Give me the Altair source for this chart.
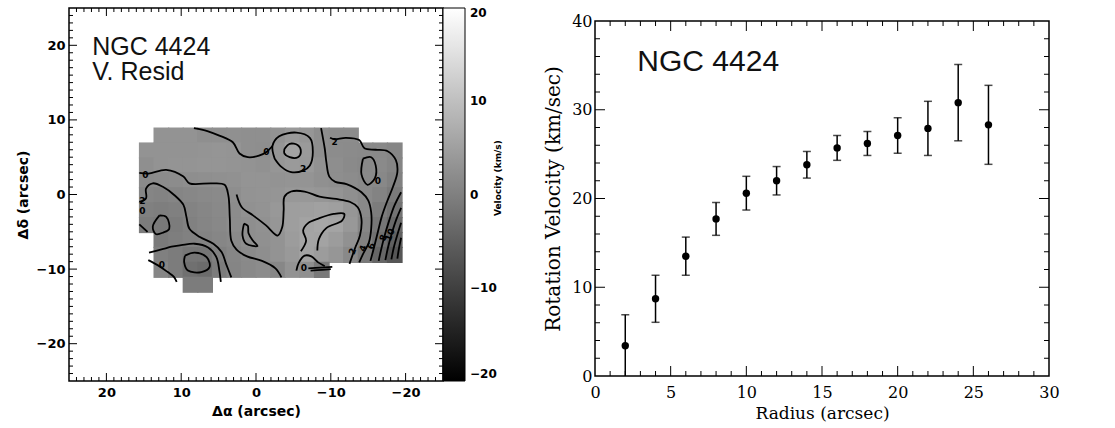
import altair as alt
import pandas as pd

# ---------------- Right panel: rotation curve of NGC 4424 ----------------
radius_arcsec = [2, 4, 6, 8, 10, 12, 14, 16, 18, 20, 22, 24, 26]
rot_velocity = [3.4, 8.7, 13.5, 17.7, 20.6, 22.0, 23.8, 25.7, 26.2, 27.1, 27.9, 30.8, 28.3]
rot_error = [3.5, 2.65, 2.15, 1.85, 1.9, 1.6, 1.5, 1.4, 1.35, 2.0, 3.05, 4.3, 4.45]

rc_x_labels = [0, 5, 10, 15, 20, 25, 30]
rc_y_labels = [0, 10, 20, 30, 40]
rc_x_major = [5, 10, 15, 20, 25]
rc_x_minor = [1, 2, 3, 4, 6, 7, 8, 9, 11, 12, 13, 14, 16, 17, 18, 19, 21, 22, 23, 24, 26, 27, 28, 29]
rc_y_major = [10, 20, 30]
rc_y_minor = [2, 4, 6, 8, 12, 14, 16, 18, 22, 24, 26, 28, 32, 34, 36, 38]

# ---------------- Left panel: velocity residual map ----------------
map_labels = [20, 10, 0, -10, -20]
map_major = [20, 10, 0, -10, -20]
map_minor = [v for v in range(-24, 25) if v % 10 != 0]
cbar_values = [-20, -10, 0, 10, 20]

# grid cell centres (arcsec) and residual velocity (km/s) per cell, rows top -> bottom
map_x = [14.6, 12.65, 10.7, 8.75, 6.8, 4.85, 2.9, 0.95, -1.0, -2.95, -4.9, -6.85,
         -8.8, -10.75, -12.7, -14.65, -16.6, -18.55]
map_y = [7.9, 5.9, 3.9, 1.9, -0.1, -2.1, -4.1, -6.1, -8.1, -10.1, -12.1]
N = None
resid = [
    [N, 3.0, 3.0, 3.0, 2.5, 2.5, 2.6, 2.5, 2.5, 3.0, 4.0, 3.5, 2.2, 2.0, 2.0, N, N, N],
    [3.0, 3.0, 3.0, 3.0, 3.2, 3.3, 3.2, 2.5, 2.3, 3.5, 5.5, 4.2, 2.3, 2.0, 1.8, 1.7, 1.5, 1.0],
    [2.5, 3.0, 3.2, 3.2, 3.3, 3.3, 3.2, 3.0, 2.8, 3.5, 4.2, 4.0, 2.8, 2.3, 1.7, 1.4, 1.7, 0.8],
    [1.7, 1.8, 2.0, 2.3, 2.5, 2.6, 2.8, 3.2, 3.2, 3.0, 3.2, 3.2, 2.6, 2.3, 2.0, 1.5, 1.4, 0.2],
    [0.8, 0.5, 0.8, 1.2, 1.5, 1.7, 2.2, 3.0, 3.2, 3.3, 3.8, 3.8, 3.5, 3.2, 2.5, 1.5, 0.5, -0.8],
    [0.0, -0.2, 0.0, 0.5, 1.0, 1.5, 2.0, 2.8, 3.0, 3.8, 4.8, 5.0, 5.2, 5.0, 3.5, 1.5, -0.5, -2.0],
    [-0.5, -1.0, -0.5, 0.2, 0.8, 1.4, 1.9, 2.3, 2.8, 3.5, 4.8, 5.5, 6.0, 5.8, 3.8, 1.0, -1.5, -3.5],
    [N, -0.8, -0.2, 0.2, 0.5, 1.0, 1.5, 2.2, 2.6, 3.0, 4.5, 5.8, 5.5, 4.5, 2.8, 0.2, -2.5, -5.0],
    [N, 0.0, -0.5, -1.5, -1.5, 0.0, 1.0, 1.7, 2.3, 3.0, 4.0, 5.5, 4.5, 3.5, 1.5, -1.0, -4.0, -6.5],
    [N, 1.0, -0.5, -2.5, -3.0, -0.5, 0.8, 1.5, 2.0, 1.2, 3.0, 2.5, -1.0, N, N, N, N, N],
    [N, N, N, -0.5, -0.5, N, N, N, N, N, N, N, N, N, N, N, N, N],
]
CELL_W, CELL_H = 1.95, 2.0
CELL_OVERLAP = 0.08  # tiny overlap so neighbouring cells leave no seams

# contour paths (arcsec)
contour_paths = [
    [(8.3, 8.9), (6.5, 8.5), (4.9, 7.9), (3.1, 7.0), (2.2, 5.5), (1.1, 5.0), (-0.4, 5.2), (-1.4, 5.7), (-2.2, 6.5)],
    [(-2.5, 4.8), (-2.2, 6.5), (-3.1, 7.8), (-5.4, 8.3), (-7.2, 7.6), (-7.6, 5.7), (-7.2, 3.9), (-6.3, 3.2), (-4.7, 3.0), (-3.4, 3.7), (-2.5, 4.8)],
    [(-3.8, 6.1), (-4.5, 6.8), (-5.6, 6.6), (-6.0, 5.7), (-5.6, 5.0), (-4.5, 5.0), (-3.8, 5.5), (-3.8, 6.1)],
    [(15.6, 2.9), (14.4, 2.8), (12.0, 3.3), (9.7, 2.4), (8.9, 1.5), (5.9, 1.5), (4.2, 1.3), (3.7, -0.1), (3.5, -3.2), (3.3, -6.2), (2.6, -7.4), (1.2, -8.3), (-0.8, -8.9), (-2.6, -9.9), (-3.4, -11.1)],
    [(15.6, -1.0), (14.7, -0.5), (14.7, 0.8), (13.8, 1.5), (12.4, 1.0), (10.9, -0.1), (9.7, -1.4), (9.3, -3.0), (8.9, -4.6), (7.5, -5.7), (5.7, -6.6), (4.6, -7.7), (4.0, -9.3), (3.3, -11.1)],
    [(14.3, -7.8), (12.4, -7.3), (11.3, -7.0), (10.0, -6.8), (8.2, -6.6), (6.4, -7.1), (5.3, -8.4), (4.9, -10.2), (4.7, -11.7)],
    [(9.5, -8.2), (8.2, -7.8), (6.6, -8.4), (6.2, -9.7), (7.3, -10.4), (9.1, -10.2), (9.6, -9.1), (9.5, -8.2)],
    [(14.4, -8.8), (13.1, -9.5), (11.8, -10.4), (11.0, -11.0), (10.6, -11.7)],
    [(12.9, -2.8), (12.0, -3.0), (11.6, -4.6), (12.4, -5.1), (13.4, -5.3), (13.8, -4.3), (12.9, -2.8)],
    [(15.6, -4.0), (14.5, -5.0)],
    [(1.6, -3.9), (1.8, -5.5), (1.3, -6.6), (-0.2, -6.9), (0.4, -6.2), (1.0, -5.2), (1.1, -4.2), (1.6, -3.9)],
    [(2.6, 0.0), (1.9, -1.7), (0.4, -2.8), (-1.3, -4.1), (-2.9, -5.5), (-3.5, -4.4), (-3.7, -2.1), (-3.8, -0.3), (-4.7, 0.4), (-6.5, 0.4), (-8.5, -0.3), (-10.7, -0.6), (-12.6, -1.0), (-13.6, -1.7), (-14.1, -3.3), (-13.9, -5.5), (-13.2, -7.3), (-12.5, -9.3)],
    [(-6.0, -7.6), (-6.7, -6.2), (-6.3, -4.8), (-7.0, -3.8), (-8.4, -3.2), (-10.4, -2.6), (-11.8, -2.6), (-11.5, -3.5), (-9.4, -4.5), (-8.4, -6.0), (-8.2, -7.5)],
    [(-5.4, -10.2), (-5.7, -9.2), (-6.5, -8.2), (-7.4, -8.3), (-8.3, -9.1), (-9.2, -9.6)],
    [(-8.7, 8.9), (-9.2, 6.1), (-9.4, 4.4), (-9.8, 2.4), (-10.6, 1.7), (-12.1, 1.4), (-14.1, 0.3), (-15.0, -0.8), (-15.4, -2.4), (-15.4, -4.6), (-15.1, -6.4), (-14.3, -8.0), (-13.8, -9.1)],
    [(-9.9, 7.6), (-10.5, 7.4), (-12.0, 7.6), (-13.8, 7.3), (-14.5, 6.2), (-16.0, 6.0), (-17.6, 5.8), (-18.7, 4.6), (-18.9, 3.0), (-18.3, 1.0), (-17.5, -1.0), (-16.8, -3.0), (-16.3, -5.0), (-15.8, -7.0), (-15.3, -8.9)],
    [(-19.4, 0.3), (-18.5, -1.5), (-17.8, -3.5), (-17.2, -5.5), (-16.7, -7.5), (-16.4, -8.9)],
    [(-19.4, -1.8), (-18.7, -3.5), (-18.1, -5.4), (-17.6, -7.3), (-17.3, -8.8)],
    [(-19.4, -3.8), (-18.9, -5.4), (-18.4, -7.2), (-18.1, -8.7)],
    [(-19.4, -5.8), (-19.1, -7.3), (-18.9, -8.6)],
    [(-14.3, 4.8), (-15.4, 5.0), (-16.0, 3.9), (-15.9, 2.2), (-14.9, 1.3), (-14.1, 2.7), (-14.3, 4.8)],
    [(-7.0, -9.9), (-8.6, -9.8), (-10.2, -9.7)],
    [(-7.3, -10.2), (-8.8, -10.1), (-10.0, -10.0)],
]
contour_label_text = ["0", "2", "0", "0", "2", "0", "2", "4", "6", "8", "10", "0", "2", "0"]
contour_label_x = [-1.4, -6.3, -16.3, 14.8, -10.5, 12.6, -12.9, -14.3, -15.4, -17.0, -17.9, -6.4, 15.2, 15.2]
contour_label_y = [5.7, 3.45, 1.8, 2.6, 7.1, -9.4, -7.6, -7.2, -6.9, -5.8, -5.4, -9.9, -0.9, -2.2]
contour_label_angle = [0, 0, 0, 0, 0, 0, 290, 290, 290, 290, 290, 0, 0, 0]

# colour-bar title, placed in map coordinates just right of the colour bar
cbar_title = ["Velocity (km/s)"]
cbar_title_x = [-32.4]
cbar_title_y = [2.2]

# ---------------- sizes ----------------
W1, H1 = 374, 373
W2, H2 = 454, 355

mx = alt.Scale(domain=[25, -25], nice=False, zero=False)
my = alt.Scale(domain=[-25, 25], nice=False, zero=False)
cscale = alt.Scale(domain=[-20, 20], range=["#000000", "#ffffff"], interpolate="rgb")
rx = alt.Scale(domain=[0, 30], nice=False, zero=False)
ry = alt.Scale(domain=[0, 40], nice=False, zero=False)


def edge_ticks(vals, scale, length, side, w, h, sw=1.0):
    df = pd.DataFrame({"t": vals})
    base = alt.Chart(df).mark_rule(color="black", strokeWidth=sw)
    if side == "bottom":
        return base.encode(x=alt.X("t:Q", scale=scale), y=alt.value(h), y2=alt.value(h - length))
    if side == "top":
        return base.encode(x=alt.X("t:Q", scale=scale), y=alt.value(0), y2=alt.value(length))
    if side == "left":
        return base.encode(y=alt.Y("t:Q", scale=scale), x=alt.value(0), x2=alt.value(length))
    return base.encode(y=alt.Y("t:Q", scale=scale), x=alt.value(w), x2=alt.value(w - length))


def frame(xmaj, xmin, ymaj, ymin, xs, ys, w, h, lmaj, lmin):
    out = []
    for side in ("bottom", "top"):
        out.append(edge_ticks(xmaj, xs, lmaj, side, w, h))
        out.append(edge_ticks(xmin, xs, lmin, side, w, h))
    for side in ("left", "right"):
        out.append(edge_ticks(ymaj, ys, lmaj, side, w, h))
        out.append(edge_ticks(ymin, ys, lmin, side, w, h))
    return out


# ---------------- left panel ----------------
cells = []
for i, yc in enumerate(map_y):
    for j, xc in enumerate(map_x):
        v = resid[i][j]
        if v is None:
            continue
        hw = CELL_W / 2 + CELL_OVERLAP
        hh = CELL_H / 2 + CELL_OVERLAP
        cells.append(dict(x0=xc + hw, x1=xc - hw, y0=yc - hh, y1=yc + hh, v=v))
cells = pd.DataFrame(cells)

left_x_axis = alt.Axis(title="Δα (arcsec)", values=map_labels, ticks=False, tickSize=0, domain=False,
                       grid=False, labelFont="DejaVu Sans", labelFontWeight="bold", labelFontSize=13,
                       labelColor="black", labelPadding=5, labelFlush=False, format="d",
                       titleFont="DejaVu Sans", titleFontWeight="bold", titleFontSize=14,
                       titleColor="black", titlePadding=5)
left_y_axis = alt.Axis(title="Δδ (arcsec)", values=map_labels, ticks=False, tickSize=0, domain=False,
                       grid=False, labelFont="DejaVu Sans", labelFontWeight="bold", labelFontSize=13,
                       labelColor="black", labelPadding=4, labelFlush=False, format="d",
                       titleFont="DejaVu Sans", titleFontWeight="bold", titleFontSize=14,
                       titleColor="black", titlePadding=6)

cbar_legend = alt.Legend(type="gradient", orient="none", legendX=W1, legendY=0,
                         direction="vertical", gradientLength=H1, gradientThickness=22,
                         values=cbar_values, format="d",
                         labelFont="DejaVu Sans", labelFontWeight="bold", labelFontSize=12,
                         labelColor="black", labelOffset=5, gradientStrokeColor="black",
                         gradientStrokeWidth=1, padding=0, title=None)

img = alt.Chart(cells).mark_rect().encode(
    x=alt.X("x0:Q", scale=mx, axis=left_x_axis),
    x2="x1:Q",
    y=alt.Y("y0:Q", scale=my, axis=left_y_axis),
    y2="y1:Q",
    color=alt.Color("v:Q", scale=cscale, legend=cbar_legend),
)

crow = []
for k, path in enumerate(contour_paths):
    for i, (x, y) in enumerate(path):
        crow.append(dict(line=k, i=i, x=x, y=y))
contours = alt.Chart(pd.DataFrame(crow)).mark_line(
    color="black", strokeWidth=1.8, interpolate="catmull-rom", strokeJoin="round").encode(
    x=alt.X("x:Q", scale=mx), y=alt.Y("y:Q", scale=my), detail="line:N", order="i:Q")

clab = pd.DataFrame(dict(t=contour_label_text, x=contour_label_x, y=contour_label_y,
                         a=contour_label_angle))
clabels = alt.Chart(clab).mark_text(font="DejaVu Sans", fontSize=9, fontWeight="bold",
                                     color="black").encode(
    x=alt.X("x:Q", scale=mx), y=alt.Y("y:Q", scale=my), text="t:N",
    angle=alt.Angle("a:Q", scale=None))

cb_df = pd.DataFrame(dict(t=cbar_title, x=cbar_title_x, y=cbar_title_y))
cbtext = alt.Chart(cb_df).mark_text(font="DejaVu Sans", fontSize=9, fontWeight="bold",
                                     color="black", angle=270, align="center",
                                     baseline="middle").encode(
    x=alt.X("x:Q", scale=mx), y=alt.Y("y:Q", scale=my), text="t:N")

left_title = pd.DataFrame(dict(t=["NGC 4424", "V. Resid"], x=[21.9, 21.9], y=[18.7, 15.3]))
ltext = alt.Chart(left_title).mark_text(font="Liberation Sans", fontSize=25, align="left",
                                         baseline="alphabetic", color="#111111").encode(
    x=alt.X("x:Q", scale=mx), y=alt.Y("y:Q", scale=my), text="t:N")

left = alt.layer(img, contours, clabels, ltext, cbtext,
                 *frame(map_major, map_minor, map_major, map_minor, mx, my, W1, H1, 8, 4)
                 ).properties(width=W1, height=H1)

# ---------------- right panel ----------------
rc = pd.DataFrame(dict(r=radius_arcsec, v=rot_velocity, e=rot_error))
rc["lo"] = rc["v"] - rc["e"]
rc["hi"] = rc["v"] + rc["e"]

right_x_axis = alt.Axis(title="Radius (arcsec)", values=rc_x_labels, ticks=False, tickSize=0,
                        domain=False, grid=False, labelFont="DejaVu Serif", labelFontSize=16,
                        labelColor="black", labelPadding=8, labelFlush=False, format="d",
                        titleFont="DejaVu Serif", titleFontWeight="normal", titleFontSize=17,
                        titleColor="black", titlePadding=5)
right_y_axis = alt.Axis(title="Rotation Velocity (km/sec)", values=rc_y_labels, ticks=False,
                        tickSize=0, domain=False, grid=False, labelFont="DejaVu Serif",
                        labelFontSize=16, labelColor="black", labelPadding=3, labelFlush=False,
                        format="d", titleFont="DejaVu Serif", titleFontWeight="normal",
                        titleFontSize=20, titleColor="black", titlePadding=8)

bars = alt.Chart(rc).mark_rule(color="black", strokeWidth=1.5, clip=True).encode(
    x=alt.X("r:Q", scale=rx, axis=right_x_axis),
    y=alt.Y("lo:Q", scale=ry, axis=right_y_axis),
    y2="hi:Q")
cap_hi = alt.Chart(rc).mark_tick(color="black", orient="horizontal", size=8, thickness=1.5,
                                 clip=True).encode(x=alt.X("r:Q", scale=rx), y=alt.Y("hi:Q", scale=ry))
cap_lo = alt.Chart(rc).mark_tick(color="black", orient="horizontal", size=8, thickness=1.5,
                                 clip=True).encode(x=alt.X("r:Q", scale=rx), y=alt.Y("lo:Q", scale=ry))
pts = alt.Chart(rc).mark_point(filled=True, shape="circle", size=55, color="black",
                               opacity=1).encode(x=alt.X("r:Q", scale=rx), y=alt.Y("v:Q", scale=ry))

right_title = pd.DataFrame(dict(t=["NGC 4424"], x=[2.8], y=[34.4]))
rtext = alt.Chart(right_title).mark_text(font="Liberation Sans", fontSize=30, align="left",
                                          baseline="alphabetic", color="#111111").encode(
    x=alt.X("x:Q", scale=rx), y=alt.Y("y:Q", scale=ry), text="t:N")

right_panel = alt.layer(bars, cap_hi, cap_lo, pts, rtext,
                        *frame(rc_x_major, rc_x_minor, rc_y_major, rc_y_minor, rx, ry, W2, H2, 10, 5)
                        ).properties(width=W2, height=H2)

# invisible strip that lowers the rotation-curve panel a little below the map panel
spacer = alt.Chart(pd.DataFrame({"s": [0]})).mark_point(opacity=0).encode(
    x=alt.value(0), y=alt.value(0)
).properties(width=W2, height=1, view=alt.ViewBackground(stroke="transparent"))

right = alt.vconcat(spacer, right_panel, spacing=0)

chart = alt.hconcat(left, right, spacing=37).properties(
    padding={"left": 15, "top": 4, "right": 0, "bottom": 0}, background="white"
).configure_view(stroke="black", strokeWidth=1.5)

chart.save("out.html", embed_options={"renderer": "svg", "actions": False})
